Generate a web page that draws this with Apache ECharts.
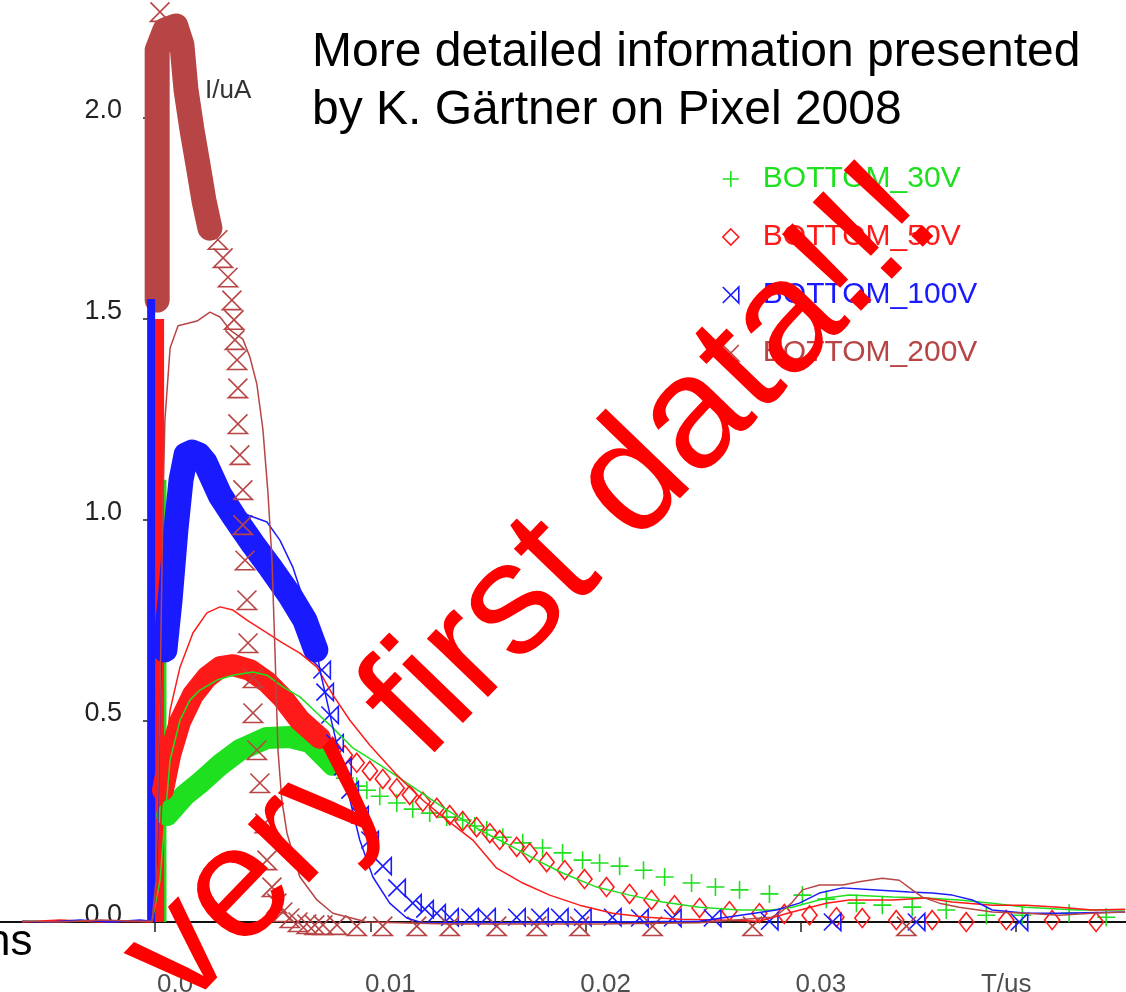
<!DOCTYPE html>
<html>
<head>
<meta charset="utf-8">
<script src="https://cdn.jsdelivr.net/npm/echarts@6/dist/echarts.min.js"></script>
<style>
html,body{margin:0;padding:0;background:#fff;}
#chart{width:1126px;height:992px;}
</style>
</head>
<body>
<div id="chart"></div>
<script>
// ---------- axis ticks ----------
const tTicks = [0, 0.01, 0.02, 0.03, 0.04];
const tTickLabels = ['0.0', '0.01', '0.02', '0.03', 'T/us'];
const tLabelLevel = -0.157;   // value level at which the time tick labels sit (below the axis)
const vTicks = [0, 0.5, 1.0, 1.5, 2.0];
const vTickLabels = ['0.0', '0.5', '1.0', '1.5', '2.0'];

const seriesNames = ['BOTTOM_30V', 'BOTTOM_50V', 'BOTTOM_100V', 'BOTTOM_200V'];

// ---------- early spikes at t ~ 0 ----------
const spike30 = [[0.00037, 0], [0.00037, 1.1]];
const spike50 = [[0.00019, 0], [0.00019, 1.5]];
const spike100 = [[-0.00018, 0], [-0.00018, 1.55]];

// ---------- BOTTOM_200V (brown) ----------
const band200 = [[0.0001,1.547],[0.0001,2.169],[0.00046,2.219],[0.00097,2.229],[0.00125,2.182],[0.00144,2.07],[0.00172,1.97],[0.002,1.883],[0.00227,1.796],[0.00255,1.726]];
const marks200 = [[0.00023,2.264],[0.00292,1.697],[0.00316,1.652],[0.00339,1.604],[0.00357,1.547],[0.00367,1.498],[0.00371,1.448],[0.00381,1.398],[0.00385,1.328],[0.00385,1.239],[0.00394,1.162],[0.00408,1.075],[0.00408,0.988],[0.00418,0.9],[0.00427,0.801],[0.00432,0.694],[0.00455,0.607],[0.00455,0.52],[0.00473,0.428],[0.00487,0.346],[0.0051,0.246],[0.0052,0.154],[0.00543,0.087],[0.00566,0.047],[0.00594,0.025],[0.00626,0.01],[0.00664,0.0],[0.00705,-0.005],[0.00742,-0.007],[0.0078,-0.007],[0.00845,-0.007],[0.00937,-0.01],[0.01058,-0.01],[0.01216,-0.01],[0.01369,-0.01],[0.01587,-0.01],[0.01773,-0.01],[0.01972,-0.01],[0.02311,-0.01],[0.02775,-0.01],[0.0349,-0.01]];
const line200 = [[-0.00617,0.002],[-0.00441,0],[-0.00255,0.005],[-0.0007,0.002],[-0.00014,0.002],[0.00005,0.104],[0.00023,0.552],[0.00037,1.05],[0.00046,1.249],[0.0007,1.428],[0.00107,1.483],[0.00195,1.495],[0.00255,1.517],[0.00302,1.505],[0.00348,1.473],[0.00408,1.45],[0.00441,1.405],[0.00473,1.338],[0.00501,1.226],[0.00524,1.072],[0.00543,0.905],[0.00557,0.677],[0.00571,0.428],[0.00589,0.303],[0.00613,0.221],[0.00673,0.112],[0.00752,0.055],[0.00826,0.022],[0.00984,0],[0.01369,-0.005],[0.02065,-0.005],[0.02529,-0.002],[0.02863,0.012],[0.029,0.022],[0.02956,0.047],[0.03007,0.08],[0.03086,0.092],[0.03193,0.092],[0.03271,0.1],[0.03378,0.109],[0.03457,0.104],[0.03517,0.08],[0.03564,0.062],[0.03643,0.047],[0.03735,0.037],[0.03889,0.025],[0.04046,0.022],[0.042,0.017],[0.04353,0.022],[0.04506,0.025]];

// ---------- BOTTOM_100V (blue) ----------
const band100 = [[0.00046,0.677],[0.0007,0.801],[0.00097,0.975],[0.00121,1.1],[0.00144,1.162],[0.00172,1.169],[0.00204,1.162],[0.00232,1.144],[0.00302,1.062],[0.00371,1.005],[0.00455,0.94],[0.00534,0.883],[0.00626,0.813],[0.00696,0.751],[0.00747,0.677]];
const marks100 = [[0.00775,0.627],[0.00789,0.572],[0.00812,0.515],[0.00835,0.445],[0.00872,0.386],[0.00905,0.328],[0.00951,0.266],[0.00998,0.204],[0.01058,0.139],[0.01123,0.085],[0.01197,0.047],[0.01253,0.032],[0.01309,0.022],[0.01369,0.012],[0.01462,0.012],[0.01541,0.012],[0.0168,0.012],[0.01787,0.012],[0.01879,0.012],[0.01986,0.012],[0.02125,0.012],[0.02251,0.01],[0.02404,0.01],[0.02589,0.01],[0.02854,0.002],[0.03146,0],[0.03536,0],[0.04014,0]];
const line100 = [[-0.00617,0.002],[-0.00487,0],[-0.00348,0.005],[-0.00209,0],[-0.0007,0.005],[-0.00014,0.002],[0.0001,0.154],[0.00023,0.552],[0.00046,0.9],[0.00079,1.05],[0.00125,1.124],[0.00209,1.144],[0.00302,1.087],[0.00408,1.017],[0.0052,0.995],[0.0058,0.95],[0.0064,0.883],[0.00705,0.776],[0.00733,0.734],[0.00766,0.627],[0.00826,0.485],[0.00891,0.336],[0.00951,0.204],[0.01012,0.112],[0.0109,0.047],[0.01169,0.01],[0.01244,-0.002],[0.01601,-0.002],[0.02065,0],[0.02529,0.002],[0.02886,0.03],[0.02993,0.047],[0.03086,0.072],[0.03193,0.085],[0.0335,0.08],[0.03503,0.075],[0.0361,0.072],[0.03703,0.067],[0.03796,0.055],[0.03889,0.03],[0.04046,0.022],[0.042,0.022],[0.04506,0.025]];

// ---------- BOTTOM_50V (red) ----------
const band50 = [[0.00037,0.328],[0.0007,0.415],[0.00116,0.498],[0.00176,0.565],[0.00241,0.609],[0.00302,0.634],[0.00362,0.639],[0.00441,0.627],[0.0052,0.597],[0.00594,0.557],[0.00673,0.502],[0.00766,0.458]];
const marks50 = [[0.00826,0.435],[0.00882,0.415],[0.00937,0.396],[0.00998,0.376],[0.01058,0.356],[0.01123,0.333],[0.01183,0.316],[0.01244,0.299],[0.01309,0.284],[0.01369,0.266],[0.01429,0.251],[0.01494,0.236],[0.01555,0.221],[0.01601,0.204],[0.0168,0.187],[0.0174,0.172],[0.01819,0.149],[0.01903,0.129],[0.01995,0.107],[0.02097,0.087],[0.02204,0.07],[0.02306,0.055],[0.02413,0.042],[0.02529,0.035],[0.02668,0.027],[0.02807,0.022],[0.02923,0.02],[0.0304,0.017],[0.03165,0.012],[0.03285,0.01],[0.03443,0.005],[0.0361,0.005],[0.03768,0],[0.03954,0.005],[0.04167,0.005],[0.04371,0]];
const line50 = [[-0.00617,0],[-0.00441,0.005],[-0.00255,0],[-0.00116,0.002],[-0.00014,0],[0.00014,0.104],[0.00037,0.353],[0.0007,0.527],[0.00116,0.634],[0.00176,0.719],[0.00241,0.769],[0.00302,0.784],[0.00362,0.776],[0.00427,0.751],[0.0052,0.719],[0.00594,0.694],[0.00673,0.669],[0.00752,0.634],[0.00826,0.565],[0.00905,0.502],[0.00998,0.44],[0.01123,0.366],[0.01244,0.303],[0.01355,0.254],[0.01476,0.204],[0.01587,0.134],[0.01708,0.097],[0.01833,0.067],[0.01972,0.042],[0.02125,0.022],[0.02283,0.012],[0.02436,0.007],[0.02622,0.005],[0.02807,0.002],[0.0296,0.025],[0.03118,0.047],[0.03225,0.055],[0.03425,0.055],[0.03582,0.06],[0.03703,0.05],[0.03889,0.042],[0.04046,0.042],[0.042,0.037],[0.04353,0.03],[0.04506,0.032]];

// ---------- BOTTOM_30V (green) ----------
const band30 = [[0.00056,0.266],[0.00139,0.316],[0.00209,0.346],[0.00302,0.391],[0.00394,0.428],[0.0052,0.458],[0.00626,0.46],[0.00719,0.448],[0.00766,0.423],[0.00826,0.391]];
const marks30 = [[0.00882,0.358],[0.00937,0.338],[0.00984,0.328],[0.01044,0.313],[0.01123,0.296],[0.01197,0.281],[0.01276,0.271],[0.01355,0.261],[0.01429,0.254],[0.01485,0.239],[0.01541,0.229],[0.01615,0.211],[0.01708,0.197],[0.018,0.184],[0.01893,0.172],[0.01986,0.154],[0.02065,0.147],[0.02158,0.139],[0.02269,0.129],[0.02367,0.112],[0.02492,0.097],[0.02603,0.087],[0.02715,0.08],[0.02854,0.07],[0.03007,0.067],[0.03118,0.057],[0.03258,0.047],[0.03378,0.042],[0.03517,0.037],[0.03675,0.03],[0.03861,0.017],[0.04028,0.017],[0.04246,0.022],[0.04418,0.012]];
const line30 = [[-0.00617,0.002],[-0.00014,0.002],[0.00023,0.104],[0.00046,0.254],[0.0007,0.403],[0.00116,0.502],[0.00162,0.552],[0.00209,0.577],[0.00288,0.602],[0.00362,0.614],[0.00455,0.622],[0.0052,0.614],[0.00594,0.585],[0.00673,0.56],[0.00752,0.52],[0.00826,0.483],[0.00919,0.433],[0.01044,0.391],[0.01197,0.336],[0.01355,0.279],[0.01508,0.229],[0.01661,0.187],[0.01773,0.154],[0.01893,0.122],[0.02051,0.087],[0.02204,0.067],[0.02357,0.05],[0.02529,0.037],[0.02715,0.03],[0.02863,0.03],[0.0296,0.037],[0.03118,0.06],[0.03225,0.067],[0.03425,0.062],[0.03582,0.06],[0.03735,0.055],[0.03889,0.047],[0.04046,0.037],[0.04278,0.03],[0.04506,0.03]];

// ---------- styling ----------
const C30 = '#1ee01e', C50 = '#ff1a1a', C100 = '#1a1aff', C200 = '#b84545';
const SYM30 = 'path://M0,-8L0,8M-8,0L8,0';
const SYM50 = 'diamond';
const SYM100 = 'path://M-8,-8L8,8L8,-8L-8,8';
const SYM200 = 'path://M-8,-8L8,8L-8,8L8,-8';
const FONT = '"Liberation Sans", Arial, sans-serif';

function markSeries(name, data, color, symbol, size, z) {
  return {
    name: name, type: 'scatter', data: data, symbol: symbol, symbolSize: size,
    itemStyle: { color: 'rgba(0,0,0,0)', borderColor: color, borderWidth: 1.6, opacity: 1 },
    emphasis: { disabled: true }, z: z, silent: true
  };
}
function bandSeries(id, data, color, width, z, cap) {
  return {
    id: id, name: id, type: 'line', data: data, symbol: 'none', showSymbol: false,
    lineStyle: { color: color, width: width, cap: cap || 'round', join: 'round' },
    emphasis: { disabled: true }, z: z, silent: true
  };
}
function thinSeries(id, data, color, z) {
  return {
    id: id, name: id, type: 'line', data: data, symbol: 'none', showSymbol: false,
    lineStyle: { color: color, width: 1.5 },
    emphasis: { disabled: true }, z: z, silent: true
  };
}
function pick(list, labels) {
  return function (v) {
    for (let i = 0; i < list.length; i++) if (Math.abs(v - list[i]) < 1e-9) return labels[i];
    return '';
  };
}

const chart = echarts.init(document.getElementById('chart'), null, { renderer: 'canvas' });
const option = {
  animation: false,
  backgroundColor: '#ffffff',
  grid: { left: 0, top: 0, width: 1126, height: 992, containLabel: false, outerBoundsMode: 'none' },
  xAxis: {
    type: 'value', min: -0.0072, max: 0.0451,
    splitLine: { show: false },
    axisLine: { show: true, onZero: true, lineStyle: { color: '#111', width: 2 } },
    axisTick: { show: true, inside: false, length: 10, customValues: tTicks, lineStyle: { color: '#222', width: 1.5 } },
    axisLabel: { show: false }
  },
  yAxis: {
    type: 'value', min: -0.174, max: 2.2935, offset: -148,
    splitLine: { show: false },
    axisLine: { show: false, onZero: false },
    axisTick: { show: true, length: 5, customValues: vTicks, lineStyle: { color: '#222', width: 1.5 } },
    axisLabel: {
      show: true, customValues: vTicks, margin: 26, color: '#222',
      fontFamily: FONT, fontSize: 27, lineHeight: 14, verticalAlign: 'bottom',
      formatter: pick(vTicks, vTickLabels)
    }
  },
  legend: {
    orient: 'vertical', left: 722, top: 164, padding: 0,
    itemWidth: 16, itemHeight: 16, itemGap: 28, selectedMode: false,
    textStyle: { fontFamily: FONT, fontSize: 30, padding: [0, 0, 0, 19] },
    data: [
      { name: seriesNames[0], icon: SYM30, itemStyle: { color: 'rgba(0,0,0,0)', borderColor: C30, borderWidth: 1.6 }, textStyle: { color: C30 } },
      { name: seriesNames[1], icon: SYM50, itemStyle: { color: 'rgba(0,0,0,0)', borderColor: C50, borderWidth: 1.6 }, textStyle: { color: C50 } },
      { name: seriesNames[2], icon: SYM100, itemStyle: { color: 'rgba(0,0,0,0)', borderColor: C100, borderWidth: 1.6 }, textStyle: { color: C100 } },
      { name: seriesNames[3], icon: SYM200, itemStyle: { color: 'rgba(0,0,0,0)', borderColor: C200, borderWidth: 1.6 }, textStyle: { color: C200 } }
    ]
  },
  series: [
    markSeries(seriesNames[0], marks30, C30, SYM30, 18, 5),
    markSeries(seriesNames[1], marks50, C50, SYM50, [15, 19], 5),
    markSeries(seriesNames[2], marks100, C100, SYM100, 17, 5),
    markSeries(seriesNames[3], marks200, C200, SYM200, 19, 5),
    bandSeries('band200', band200, C200, 25, 1),
    bandSeries('spike30', spike30, C30, 7, 2, 'butt'),
    bandSeries('spike50', spike50, C50, 10, 2, 'butt'),
    bandSeries('spike100', spike100, C100, 8, 2, 'butt'),
    bandSeries('band30', band30, C30, 22, 3),
    bandSeries('band50', band50, C50, 22, 3),
    bandSeries('band100', band100, C100, 25, 4),
    thinSeries('sim30', line30, C30, 6),
    thinSeries('sim50', line50, C50, 6),
    thinSeries('sim100', line100, C100, 6),
    thinSeries('sim200', line200, C200, 6),
    {
      id: 'tLabels', name: 'tLabels', type: 'scatter', silent: true, z: 7,
      data: tTicks.map(function (t, i) {
        return { value: [t, tLabelLevel], label: { offset: [i === tTicks.length - 1 ? -10 : 20, 0] } };
      }),
      symbol: 'circle', symbolSize: 1, itemStyle: { color: 'rgba(0,0,0,0)' },
      label: {
        show: true, position: 'inside', color: '#222',
        fontFamily: FONT, fontSize: 26,
        formatter: function (p) { return tTickLabels[p.dataIndex]; }
      },
      emphasis: { disabled: true }
    }
  ],
  graphic: [
    { type: 'text', left: 312, top: 29, z: 50, style: { text: 'More detailed information presented', font: '48px ' + FONT, fill: '#000' } },
    { type: 'text', left: 312, top: 87, z: 50, style: { text: 'by K. G\u00e4rtner on Pixel 2008', font: '48px ' + FONT, fill: '#000' } },
    { type: 'text', left: 205, top: 78, z: 50, style: { text: 'I/uA', font: '26px ' + FONT, fill: '#333' } },
    { type: 'text', left: -14, top: 921, z: 50, style: { text: 'ns', font: '44px ' + FONT, fill: '#000' } },
    { type: 'text', x: 532, y: 588, rotation: 46 * Math.PI / 180, z: 100,
      style: { text: 'very first data!!!', font: '160px ' + FONT, fill: '#ff0000', align: 'center', verticalAlign: 'middle', textAlign: 'center', textVerticalAlign: 'middle' } }
  ]
};
chart.setOption(option);
</script>
</body>
</html>
